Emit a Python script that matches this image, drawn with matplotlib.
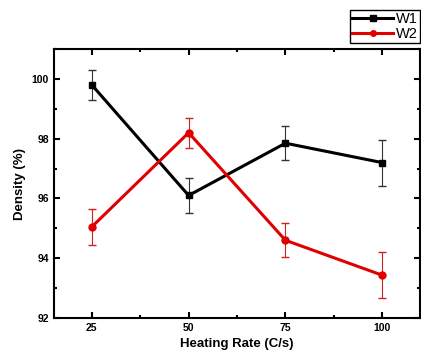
import numpy as np
import matplotlib.pyplot as plt
from matplotlib.ticker import MultipleLocator
from matplotlib.lines import Line2D

plt.rcParams['font.family'] = ['Liberation Sans', 'DejaVu Sans']

rates = [25, 50, 75, 100]
w1 = [99.8, 96.1, 97.85, 97.2]
w1_err = [0.5, 0.6, 0.57, 0.77]
w2 = [95.05, 98.2, 94.6, 93.43]
w2_err = [0.6, 0.5, 0.57, 0.78]

fig = plt.figure(figsize=(4.21, 3.56), dpi=100)
ax = fig.add_axes([0.128, 0.107, 0.87, 0.755])

ax.errorbar(rates, w1, yerr=w1_err, color='black', marker='s', markersize=5,
            linewidth=2.2, ecolor='#333333', elinewidth=0.8, capsize=3)
ax.errorbar(rates, w2, yerr=w2_err, color='#e00000', marker='o', markersize=5,
            linewidth=2.2, ecolor='#cc2222', elinewidth=0.8, capsize=3)

ax.set_xlim(15.2, 109.8)
ax.set_ylim(92, 101)
ax.set_xticks(rates)
ax.xaxis.set_minor_locator(MultipleLocator(12.5))
ax.yaxis.set_major_locator(MultipleLocator(2))
ax.yaxis.set_minor_locator(MultipleLocator(1))
ax.tick_params(which='both', direction='in', top=True, right=True, width=1.5)
ax.tick_params(which='major', length=4, labelsize=7.5)
ax.tick_params(which='minor', length=2.5)
for lab in ax.get_xticklabels() + ax.get_yticklabels():
    lab.set_fontweight('bold')
for s in ax.spines.values():
    s.set_linewidth(1.5)

ax.set_xlabel('Heating Rate (C/s)', fontsize=9.5, fontweight='bold')
ax.set_ylabel('Density (%)', fontsize=9.5, fontweight='bold')

handles = [Line2D([], [], color='black', marker='s', markersize=4, linewidth=2.2),
           Line2D([], [], color='#e00000', marker='o', markersize=4, linewidth=2.2)]
fig.legend(handles, ['W1', 'W2'], loc='upper right', bbox_to_anchor=(0.998, 0.972),
           fontsize=10.5, frameon=True, fancybox=False, edgecolor='black',
           borderpad=0.15, handlelength=2.8, handletextpad=0.2,
           labelspacing=0.05, borderaxespad=0, framealpha=1)

fig.savefig('out.png', dpi=100)
